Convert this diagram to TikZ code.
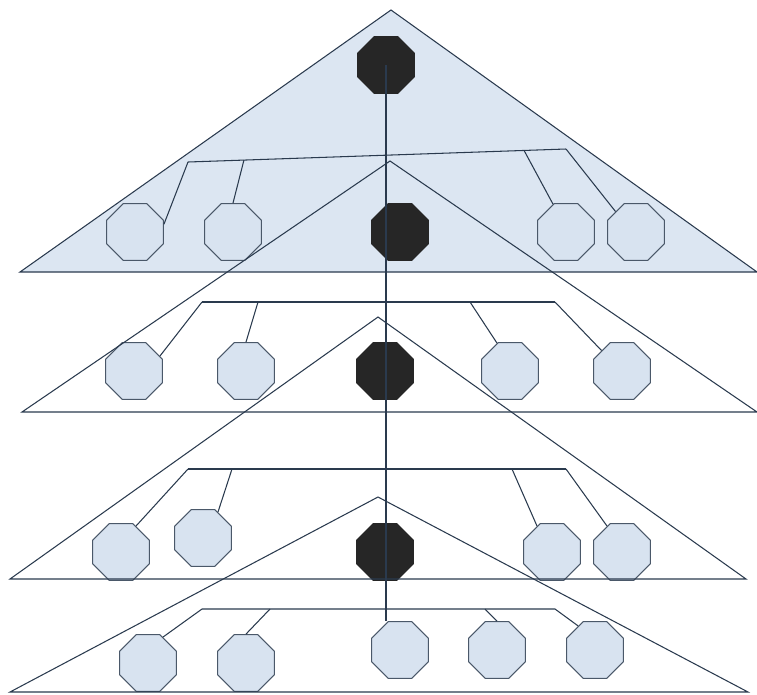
\documentclass[tikz,border=0pt]{standalone}
\usepackage{xcolor}
\usepackage{tikz}
\usetikzlibrary{shapes.geometric,calc}
\definecolor{edgeblue}{HTML}{2A3A4E}
\definecolor{leafblue}{HTML}{D8E3F0}
\definecolor{paleblue}{HTML}{DCE6F2}
\definecolor{hubgray}{HTML}{262626}
\begin{document}
\begin{tikzpicture}[x=0.02cm,y=-0.02cm,
  oct/.style={regular polygon,regular polygon sides=8,minimum size=1.23cm,
              inner sep=0pt,line width=0.6pt},
  leaf/.style={oct,draw=edgeblue!85,fill=leafblue},
  hub/.style={oct,draw=hubgray,fill=hubgray},
  wire/.style={draw=edgeblue,line width=0.6pt},
  tri/.style={draw=edgeblue,line width=0.6pt,line join=miter}]
\useasboundingbox (0,0) rectangle (757,694);
\fill[paleblue] (391,10) -- (20,272) -- (757,272) -- cycle;
\node[hub] (k1) at (386,65) {};
\node[hub] (k2) at (400,232) {};
\node[hub] (k3) at (385,371) {};
\node[hub] (k4) at (385,552) {};
\node[leaf] (l1a) at (135,232) {};
\node[leaf] (l1b) at (233,232) {};
\node[leaf] (l1c) at (566,232) {};
\node[leaf] (l1d) at (636,232) {};
\node[leaf] (l2a) at (134,371) {};
\node[leaf] (l2b) at (246,371) {};
\node[leaf] (l2c) at (510,371) {};
\node[leaf] (l2d) at (622,371) {};
\node[leaf] (l3a) at (121,552) {};
\node[leaf] (l3b) at (203,538) {};
\node[leaf] (l3c) at (552,552) {};
\node[leaf] (l3d) at (622,552) {};
\node[leaf] (l4a) at (148,663) {};
\node[leaf] (l4b) at (246,663) {};
\node[leaf] (l4c) at (400,650) {};
\node[leaf] (l4d) at (497,650) {};
\node[leaf] (l4e) at (595,650) {};
\draw[tri] (391,10) -- (20,272) -- (757,272) -- cycle;
\draw[tri] (390,161) -- (22,412) -- (757,412) -- cycle;
\draw[tri] (378,317) -- (10,579) -- (746,579) -- cycle;
\draw[tri] (378,497) -- (10,692) -- (748,692) -- cycle;
\coordinate (b1w) at (188,162);
\coordinate (b1e) at (566,149);
\coordinate (b2w) at (202,302);
\coordinate (b2e) at (555,302);
\coordinate (b3w) at (188,469);
\coordinate (b3e) at (566,469);
\coordinate (b4w) at (202,609);
\coordinate (b4e) at (555,609);
\draw[wire] (b1w) -- (b1e);
\draw[wire] (b1w) -- (l1a.15);
\draw[wire] ($(b1w)!0.148!(b1e)$) -- (l1b.north);
\draw[wire] ($(b1w)!0.889!(b1e)$) -- (l1c.115);
\draw[wire] (b1e) -- (l1d.135);
\draw[wire] (b2w) -- (b2e);
\draw[wire] (b2w) -- (l2a.30);
\draw[wire] ($(b2w)+(56,0)$) -- (l2b.north);
\draw[wire] ($(b2w)+(268,0)$) -- (l2c.115);
\draw[wire] (b2e) -- (l2d.135);
\draw[wire] (b3w) -- (b3e);
\draw[wire] (b3w) -- (l3a.60);
\draw[wire] ($(b3w)+(44,0)$) -- (l3b.60);
\draw[wire] ($(b3w)+(324,0)$) -- (l3c.120);
\draw[wire] (b3e) -- (l3d.120);
\draw[wire] (b4w) -- (b4e) -- (l4e.125);
\draw[wire] (b4w) -- (l4a.60);
\draw[wire] ($(b4w)+(68,0)$) -- (l4b.north);
\draw[wire] ($(b4w)+(283,0)$) -- (l4d.north);
\draw[wire] (k1.center) -- (k1.center |- l4c.north);
\end{tikzpicture}
\end{document}
